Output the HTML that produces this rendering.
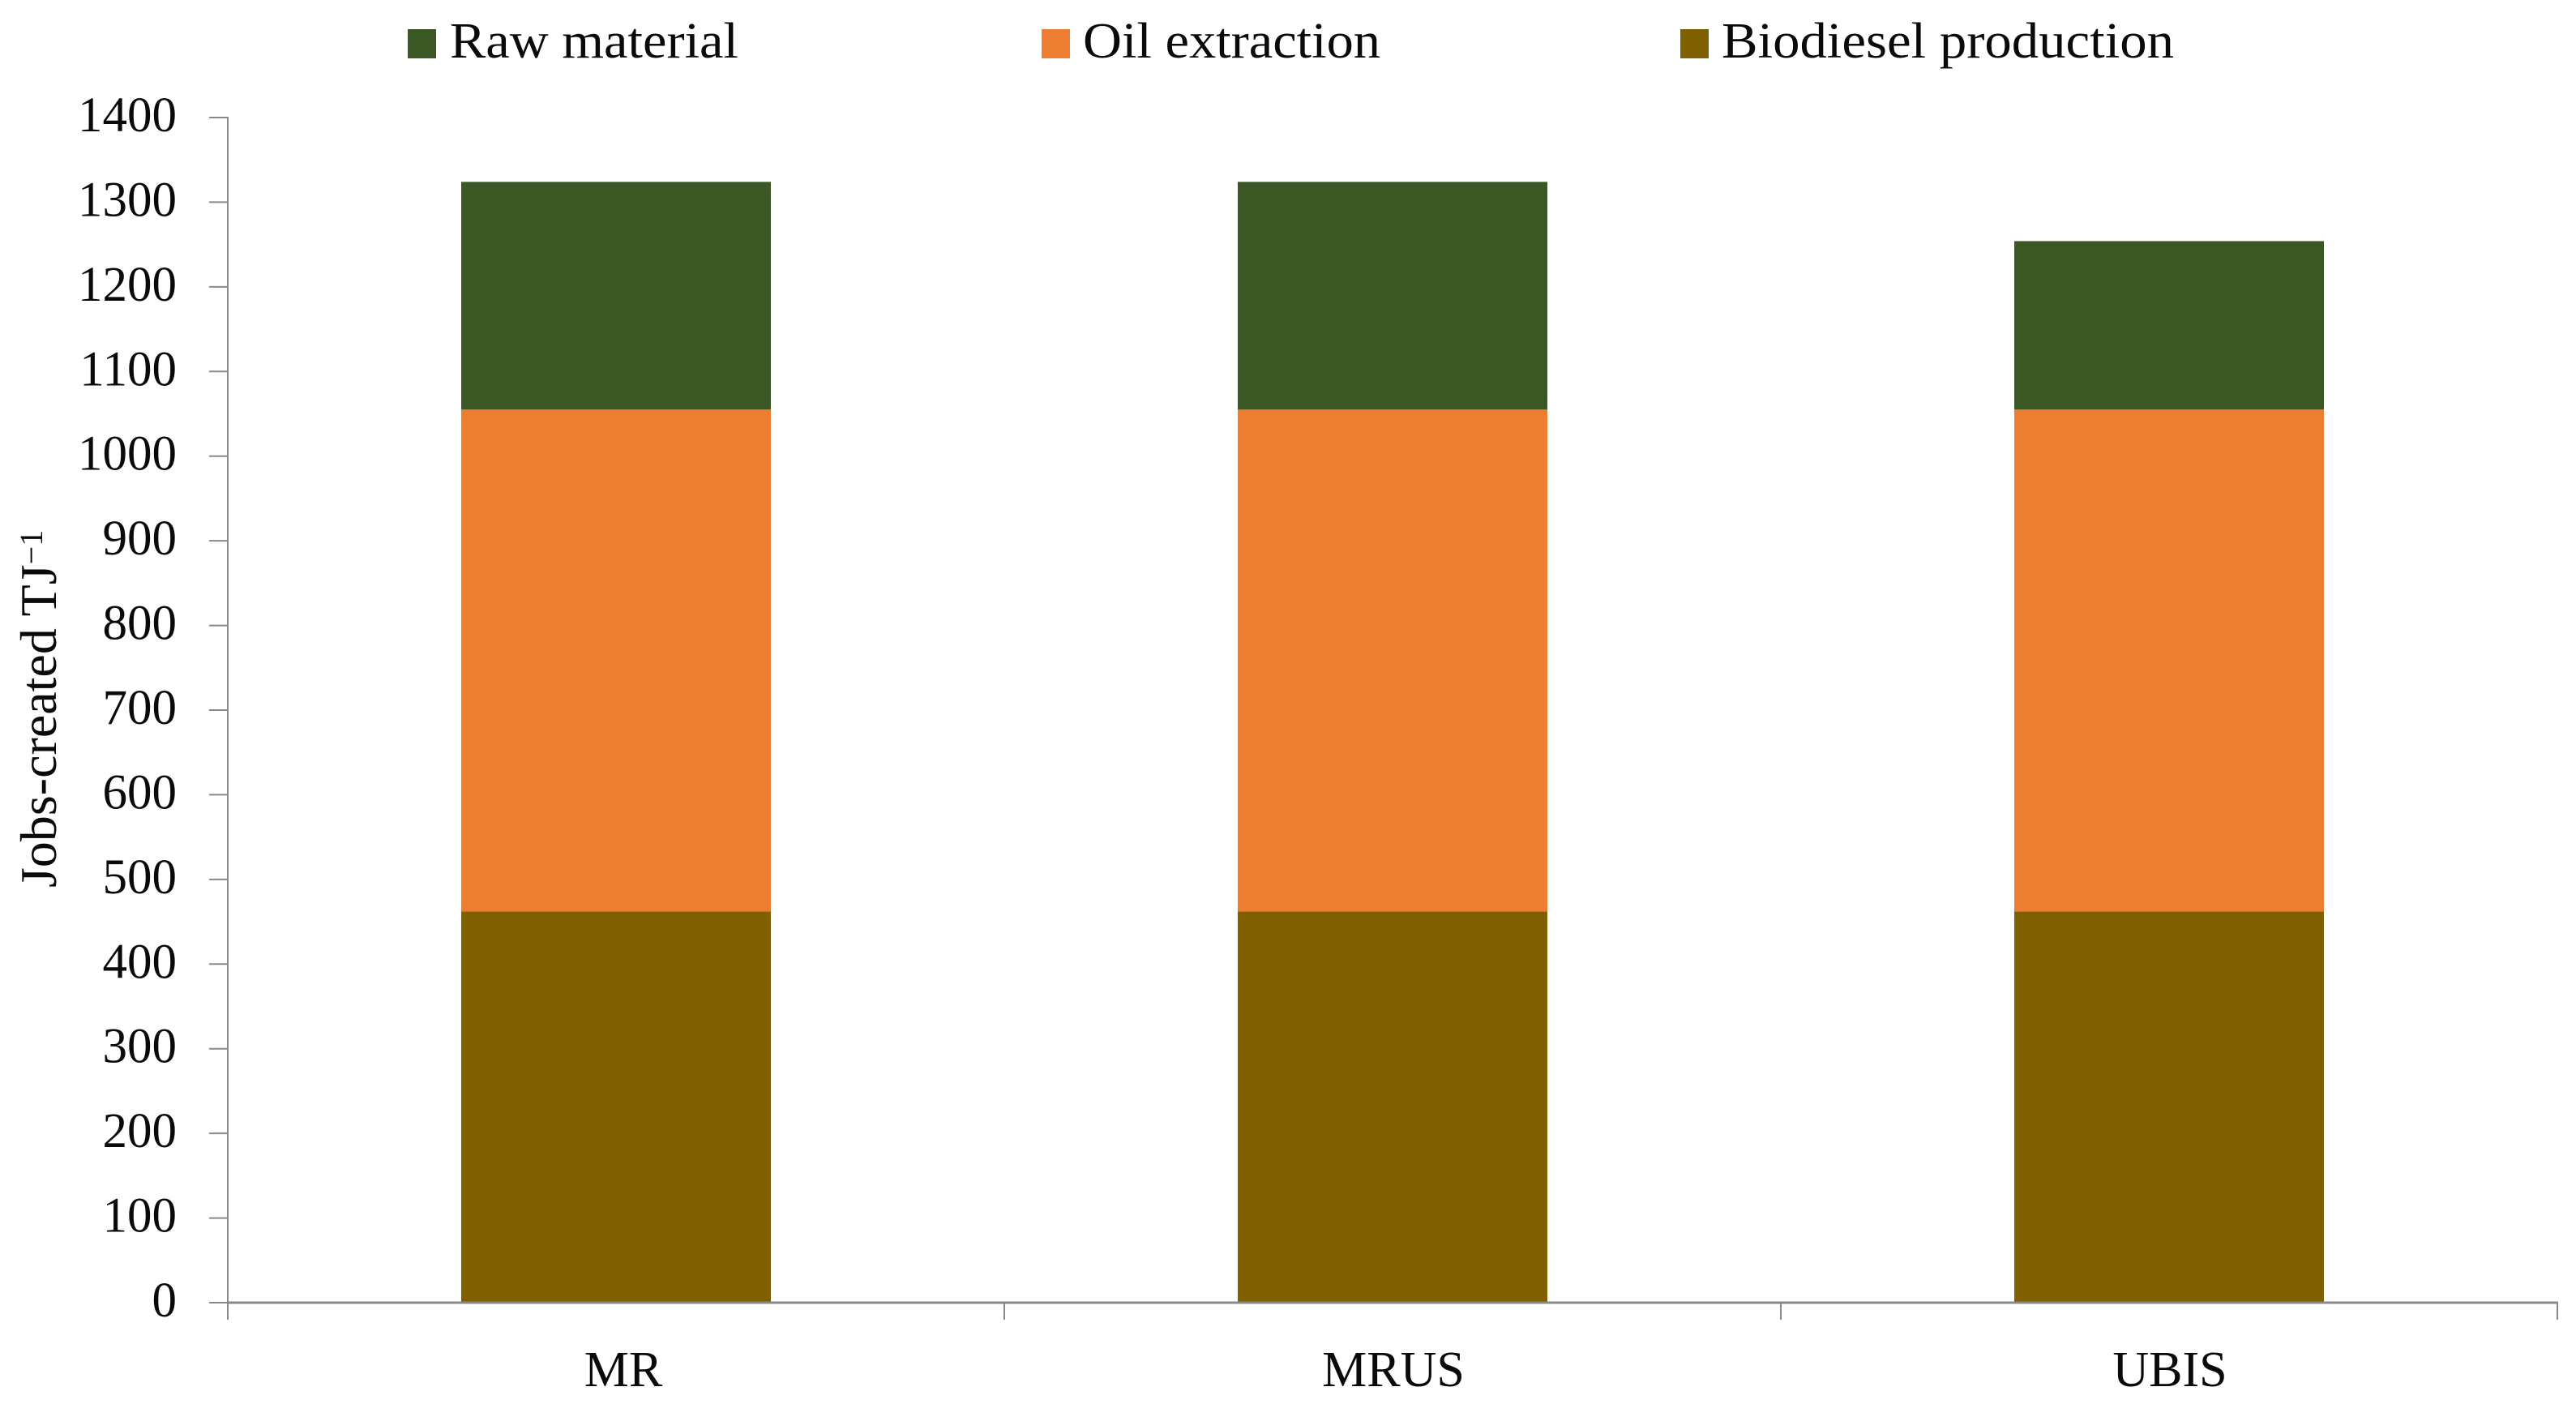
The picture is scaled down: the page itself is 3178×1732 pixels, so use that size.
<!DOCTYPE html>
<html lang="en">
<head>
<meta charset="utf-8">
<title>Jobs created per TJ by biodiesel stage</title>
<style>
  html, body { margin: 0; padding: 0; background: #fff; }
  body { width: 3178px; height: 1732px; overflow: hidden; }
  svg { display: block; font-family: "Liberation Serif", serif; fill: #000; }
  text { fill: #0a0a0a; }
</style>
</head>
<body>
<svg id="chart" xmlns="http://www.w3.org/2000/svg" width="3178" height="1732" viewBox="0 0 3178 1732">
  <rect x="0" y="0" width="3178" height="1732" fill="#ffffff"/>
  <g id="bars"></g>
  <g id="axes"></g>
  <g id="legend">
    <g>
      <rect x="503" y="36" width="35" height="36" fill="#3b5724"/>
      <text x="555" y="71" font-size="62" textLength="356" lengthAdjust="spacingAndGlyphs">Raw material</text>
    </g>
    <g>
      <rect x="1285" y="36" width="35" height="36" fill="#ed7d31"/>
      <text x="1336" y="71" font-size="62" textLength="367" lengthAdjust="spacingAndGlyphs">Oil extraction</text>
    </g>
    <g>
      <rect x="2073" y="36" width="35" height="36" fill="#7f6000"/>
      <text x="2124" y="71" font-size="62" textLength="558" lengthAdjust="spacingAndGlyphs">Biodiesel production</text>
    </g>
  </g>
  <text transform="translate(69 1095) rotate(-90)" font-size="64">Jobs-created TJ<tspan font-size="40" dy="-17">−1</tspan></text>
</svg>
<script>
const categories = ["MR", "MRUS", "UBIS"];
const biodieselProduction = [462, 462, 462];
const oilExtraction = [593, 593, 593];
const rawMaterial = [269, 269, 199];
const yTickValues = [0, 100, 200, 300, 400, 500, 600, 700, 800, 900, 1000, 1100, 1200, 1300, 1400];

const NS = "http://www.w3.org/2000/svg";
const plotLeft = 281, plotRight = 3155, plotTop = 145, plotBottom = 1607;
const yMax = 1400;
const barWidth = 382;
const axisColor = "#888888";

function yScale(v) { return plotBottom - (v / yMax) * (plotBottom - plotTop); }
function bandStart(i) { return plotLeft + i * (plotRight - plotLeft) / categories.length; }
function xCenter(i) { return bandStart(i) + (plotRight - plotLeft) / categories.length / 2; }

const barsGroup = document.getElementById("bars");
const axesGroup = document.getElementById("axes");

function drawSegment(seriesName, color, catIndex, base, value) {
  const r = document.createElementNS(NS, "rect");
  
  
  r.setAttribute("x", xCenter(catIndex) - barWidth / 2);
  r.setAttribute("width", barWidth);
  r.setAttribute("y", yScale(base + value));
  r.setAttribute("height", yScale(base) - yScale(base + value));
  r.setAttribute("fill", color);
  barsGroup.appendChild(r);
}

categories.forEach(function (c, i) {
  drawSegment("biodiesel-production", "#7f6000", i, 0, biodieselProduction[i]);
  drawSegment("oil-extraction", "#ed7d31", i, biodieselProduction[i], oilExtraction[i]);
  drawSegment("raw-material", "#3b5724", i, biodieselProduction[i] + oilExtraction[i], rawMaterial[i]);
});

function drawLine(name, x1, y1, x2, y2, width) {
  const l = document.createElementNS(NS, "line");
  
  
  l.setAttribute("x1", x1);
  l.setAttribute("y1", y1);
  l.setAttribute("x2", x2);
  l.setAttribute("y2", y2);
  l.setAttribute("stroke", axisColor);
  l.setAttribute("stroke-width", width);
  axesGroup.appendChild(l);
}

drawLine("y-axis-line", plotLeft, plotTop - 1, plotLeft, plotBottom, 2);
drawLine("x-axis-line", plotLeft, plotBottom, plotRight + 1, plotBottom, 3);

yTickValues.forEach(function (v) {
  const y = yScale(v);
  drawLine("y-tick-" + v, 258, y, plotLeft, y, 2);
  const t = document.createElementNS(NS, "text");
  
  
  t.setAttribute("x", 218);
  t.setAttribute("y", y + 17);
  t.setAttribute("text-anchor", "end");
  t.setAttribute("font-size", "61");
  t.textContent = String(v);
  axesGroup.appendChild(t);
});

for (let i = 0; i <= categories.length; i++) {
  drawLine("x-tick-" + i, bandStart(i), plotBottom, bandStart(i), 1628, 2);
}

const labelNudge = { MR: 9, MRUS: 1, UBIS: 1 };
categories.forEach(function (c, i) {
  const t = document.createElementNS(NS, "text");
  
  
  t.setAttribute("x", xCenter(i) + labelNudge[c]);
  t.setAttribute("y", 1710);
  t.setAttribute("text-anchor", "middle");
  t.setAttribute("font-size", "62");
  t.textContent = c;
  axesGroup.appendChild(t);
});
</script>
</body>
</html>
